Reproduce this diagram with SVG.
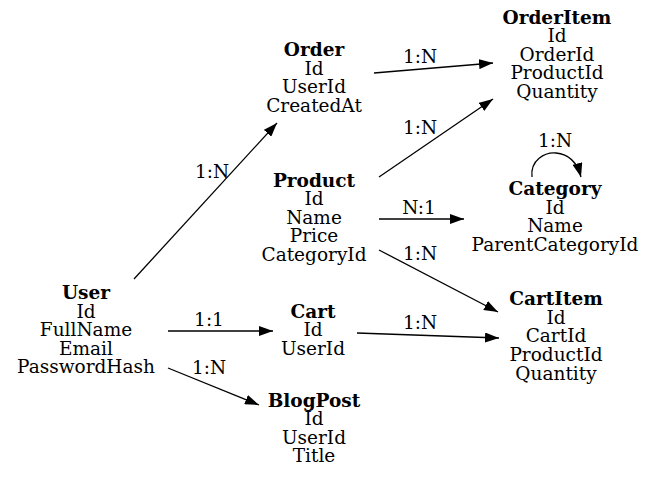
<svg xmlns="http://www.w3.org/2000/svg" width="657" height="480" viewBox="0 0 657 480">
<defs>
<marker id="ah" viewBox="0 0 14 10" refX="14" refY="5" markerWidth="14" markerHeight="10" markerUnits="userSpaceOnUse" orient="auto">
<path d="M0,0 L14,5 L0,10 Z" fill="#000"/>
</marker>
<style>
text{font-family:"DejaVu Serif",serif;font-size:18.5px;fill:#000;text-anchor:middle}
.b{font-weight:bold}
.e{fill:none;stroke:#000;stroke-width:1.3;marker-end:url(#ah)}
</style>
</defs>
<rect width="657" height="480" fill="#fff"/>
<g id="connectors">
<path class="e" d="M134,279 L277,123"/>
<text x="212" y="178">1:N</text>
<path class="e" d="M168,331 L273,331"/>
<text x="209" y="326">1:1</text>
<path class="e" d="M168,368 L259,405"/>
<text x="209" y="374">1:N</text>
<path class="e" d="M374,73 L493,63"/>
<text x="420" y="63">1:N</text>
<path class="e" d="M379,177 L493,99"/>
<text x="420" y="134">1:N</text>
<path class="e" d="M379,219 L464,219"/>
<text x="419" y="214">N:1</text>
<path class="e" d="M379,250 L498,312"/>
<text x="420" y="260">1:N</text>
<path class="e" d="M357,333 L499,338"/>
<text x="420" y="329">1:N</text>
<path class="e" d="M532,177 C530,160 545,152 556,153 C568,154 577,162 581,177"/>
<text x="555" y="147">1:N</text>
</g>
<g id="User">
<text class="b" x="86" y="299">User</text>
<text x="86" y="318">Id</text>
<text x="86" y="336">FullName</text>
<text x="86" y="355">Email</text>
<text x="86" y="373">PasswordHash</text>
</g>
<g id="Order">
<text class="b" x="314" y="56">Order</text>
<text x="314" y="74.5">Id</text>
<text x="314" y="93">UserId</text>
<text x="314" y="111.5">CreatedAt</text>
</g>
<g id="Product">
<text class="b" x="314" y="187">Product</text>
<text x="314" y="205">Id</text>
<text x="314" y="224">Name</text>
<text x="314" y="242">Price</text>
<text x="314" y="261">CategoryId</text>
</g>
<g id="Cart">
<text class="b" x="313" y="318">Cart</text>
<text x="313" y="336">Id</text>
<text x="313" y="355">UserId</text>
</g>
<g id="BlogPost">
<text class="b" x="314" y="407">BlogPost</text>
<text x="314" y="425">Id</text>
<text x="314" y="444">UserId</text>
<text x="314" y="462">Title</text>
</g>
<g id="OrderItem">
<text class="b" x="557" y="23.5">OrderItem</text>
<text x="557" y="42">Id</text>
<text x="557" y="60.5">OrderId</text>
<text x="557" y="79">ProductId</text>
<text x="557" y="98">Quantity</text>
</g>
<g id="Category">
<text class="b" x="555" y="195">Category</text>
<text x="555" y="213.5">Id</text>
<text x="555" y="232">Name</text>
<text x="555" y="250.5">ParentCategoryId</text>
</g>
<g id="CartItem">
<text class="b" x="556" y="305">CartItem</text>
<text x="556" y="323.5">Id</text>
<text x="556" y="342">CartId</text>
<text x="556" y="361">ProductId</text>
<text x="556" y="380">Quantity</text>
</g>
</svg>
